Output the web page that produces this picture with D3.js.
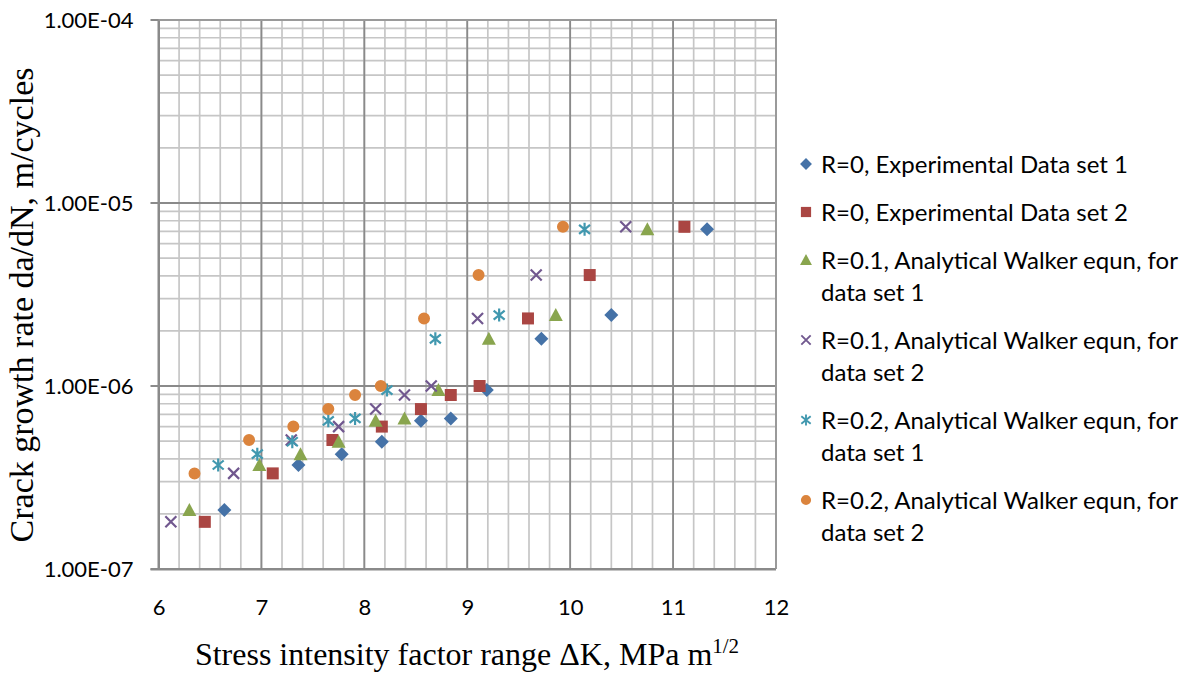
<!DOCTYPE html>
<html>
<head>
<meta charset="utf-8">
<script src="https://cdn.jsdelivr.net/npm/d3@7"></script>
<style>
  body { margin: 0; background: #fff; }
  text { font-family: Lato, "Open Sans", sans-serif; fill: #000; }
</style>
</head>
<body>
<svg width="1203" height="675"></svg>
<script>
// tick values
const xTicks = [6, 7, 8, 9, 10, 11, 12];
const yTicks = [1e-7, 1e-6, 1e-5, 1e-4];

// series labels (as in the legend)
const seriesNames = [
  "R=0, Experimental Data set 1",
  "R=0, Experimental Data set 2",
  "R=0.1, Analytical Walker equn, for data set 1",
  "R=0.1, Analytical Walker equn, for data set 2",
  "R=0.2, Analytical Walker equn, for data set 1",
  "R=0.2, Analytical Walker equn, for data set 2"
];

// da/dN values (the analytical sets reuse the experimental rates)
const rateSet1 = [2.1e-7, 3.7e-7, 4.24e-7, 4.96e-7, 6.45e-7, 6.65e-7, 9.5e-7, 1.81e-6, 2.44e-6, 7.18e-6];
const rateSet2 = [1.81e-7, 3.33e-7, 5.07e-7, 6.0e-7, 7.48e-7, 8.93e-7, 1.0e-6, 2.34e-6, 4.04e-6, 7.41e-6];

// delta K values for each series
const dkExp1 = [6.64, 7.36, 7.78, 8.17, 8.55, 8.84, 9.19, 9.72, 10.40, 11.33];
const dkExp2 = [6.45, 7.11, 7.69, 8.17, 8.55, 8.84, 9.12, 9.59, 10.19, 11.11];
const dkR01Set1 = [6.30, 6.98, 7.38, 7.75, 8.11, 8.39, 8.72, 9.21, 9.86, 10.75];
const dkR01Set2 = [6.12, 6.73, 7.29, 7.75, 8.11, 8.39, 8.65, 9.10, 9.67, 10.54];
// the lowest point of the R=0.2 sets falls left of the axis, so it is not drawn
const dkR02Set1 = [null, 6.58, 6.96, 7.30, 7.65, 7.91, 8.22, 8.69, 9.31, 10.14];
const dkR02Set2 = [null, 6.35, 6.88, 7.31, 7.65, 7.91, 8.16, 8.58, 9.11, 9.93];

const colors = ["#4572A7", "#AA4643", "#89A54E", "#71588F", "#4198AF", "#DB843D"];
const markers = ["diamond", "square", "triangle", "x", "star", "circle"];

const series = [
  { x: dkExp1, y: rateSet1 },
  { x: dkExp2, y: rateSet2 },
  { x: dkR01Set1, y: rateSet1 },
  { x: dkR01Set2, y: rateSet2 },
  { x: dkR02Set1, y: rateSet1 },
  { x: dkR02Set2, y: rateSet2 }
].map((s, i) => ({
  name: seriesNames[i],
  color: colors[i],
  marker: markers[i],
  points: s.x.map((x, j) => ({ x: x, y: s.y[j] })).filter(p => p.x !== null)
}));

const svg = d3.select("svg");
const plotLeft = 158.5, plotRight = 776, plotTop = 20, plotBottom = 569;

const xScale = d3.scaleLinear().domain([6, 12]).range([plotLeft, plotRight]);
const yScale = d3.scaleLog().domain([1e-7, 1e-4]).range([plotBottom, plotTop]);

// minor grid
const xMinor = d3.range(6, 12.001, 0.2).map(v => +v.toFixed(1));
const yMinor = [];
yTicks.slice(0, 3).forEach(d => { for (let k = 2; k <= 9; k++) yMinor.push(d * k); });

svg.append("g")
  .selectAll("line")
  .data(xMinor)
  .enter().append("line")
  .attr("x1", d => xScale(d)).attr("x2", d => xScale(d))
  .attr("y1", plotTop).attr("y2", plotBottom)
  .attr("stroke", "#c6c6c6").attr("stroke-width", 1.7);

svg.append("g")
  .selectAll("line")
  .data(yMinor)
  .enter().append("line")
  .attr("x1", plotLeft).attr("x2", plotRight)
  .attr("y1", d => yScale(d)).attr("y2", d => yScale(d))
  .attr("stroke", "#c6c6c6").attr("stroke-width", 1.7);

// major grid
svg.append("g")
  .selectAll("line")
  .data(xTicks)
  .enter().append("line")
  .attr("x1", d => xScale(d)).attr("x2", d => xScale(d))
  .attr("y1", plotTop).attr("y2", plotBottom)
  .attr("stroke", "#8a8a8a").attr("stroke-width", 1.8);

svg.append("g")
  .selectAll("line")
  .data(yTicks)
  .enter().append("line")
  .attr("x1", plotLeft - 8).attr("x2", plotRight)
  .attr("y1", d => yScale(d)).attr("y2", d => yScale(d))
  .attr("stroke", "#8a8a8a").attr("stroke-width", 1.8);

// plot border on top/right
svg.append("path")
  .attr("d", `M${plotLeft},${plotTop}H${plotRight}V${plotBottom}`)
  .attr("fill", "none").attr("stroke", "#9a9a9a").attr("stroke-width", 2);

// x axis
const xAxis = svg.append("g")
  .attr("transform", `translate(0,${plotBottom})`)
  .call(d3.axisBottom(xScale).tickValues(xTicks).tickSize(0).tickPadding(30).tickFormat(d3.format("d")));
xAxis.select(".domain").attr("d", `M${plotLeft - 8},0.5H${plotRight}`).attr("stroke", "#8a8a8a").attr("stroke-width", 2);
xAxis.selectAll("text").style("font-size", "22px").style("font-family", "Lato, sans-serif");

// y axis
const fmtExp = d => {
  const e = Math.round(Math.log10(d));
  return "1.00E" + (e < 0 ? "-" : "+") + String(Math.abs(e)).padStart(2, "0");
};
const yAxis = svg.append("g")
  .attr("transform", `translate(${plotLeft},0)`)
  .call(d3.axisLeft(yScale).tickValues(yTicks).tickSize(0).tickPadding(25).tickFormat(fmtExp));
yAxis.select(".domain").attr("stroke", "#8a8a8a").attr("stroke-width", 2);
yAxis.selectAll("text").style("font-size", "22px").style("font-family", "Lato, sans-serif");

// marker shapes
function markerPath(type) {
  const s = 6;
  switch (type) {
    case "diamond": return `M0,${-7}L7,0L0,7L${-7},0Z`;
    case "square": return `M${-s},${-s}H${s}V${s}H${-s}Z`;
    case "triangle": return `M0,${-7}L7,6H${-7}Z`;
    case "x": return `M${-5.5},${-5.5}L5.5,5.5M${-5.5},5.5L5.5,${-5.5}`;
    case "star": return `M${-5.5},${-4.5}L5.5,4.5M${-5.5},4.5L5.5,${-4.5}M0,${-6.5}V6.5`;
    default: return d3.symbol(d3.symbolCircle, 113)();
  }
}
function styleMarker(sel, s) {
  const lined = s.marker === "x" || s.marker === "star";
  sel.attr("d", markerPath(s.marker))
    .attr("fill", lined ? "none" : s.color)
    .attr("stroke", lined ? s.color : "none")
    .attr("stroke-width", lined ? 2.2 : 0);
}

// data points
series.forEach(s => {
  svg.append("g")
    .selectAll("path")
    .data(s.points)
    .enter().append("path")
    .attr("transform", d => `translate(${xScale(d.x)},${yScale(d.y)})`)
    .call(styleMarker, s);
});

// legend
const legendY = [164, 212, 260, 340, 420, 500];
const legend = svg.append("g");
series.forEach((s, i) => {
  const g = legend.append("g").attr("transform", `translate(806,${legendY[i]})`);
  g.append("path").call(styleMarker, s).attr("transform", "scale(0.85)");
  const parts = s.name.split(", for ");
  const lines = parts.length > 1 ? [parts[0] + ", for", parts[1]] : [s.name];
  const t = g.append("text").attr("x", 15).attr("y", 8.5).style("font-size", "24px");
  lines.forEach((ln, k) => t.append("tspan").attr("x", 15).attr("dy", k === 0 ? 0 : 32).text(ln));
});

// axis titles
svg.append("text")
  .attr("x", 467).attr("y", 665)
  .attr("text-anchor", "middle")
  .style("font-family", "'Liberation Serif', 'Times New Roman', serif").style("font-size", "32px")
  .text("Stress intensity factor range ΔK, MPa m")
  .append("tspan").attr("dy", -12).style("font-size", "21px").text("1/2");

svg.append("text")
  .attr("transform", "translate(33,305) rotate(-90)")
  .attr("text-anchor", "middle")
  .style("font-family", "'Liberation Serif', 'Times New Roman', serif").style("font-size", "34px")
  .text("Crack growth rate da/dN, m/cycles");
</script>
</body>
</html>
